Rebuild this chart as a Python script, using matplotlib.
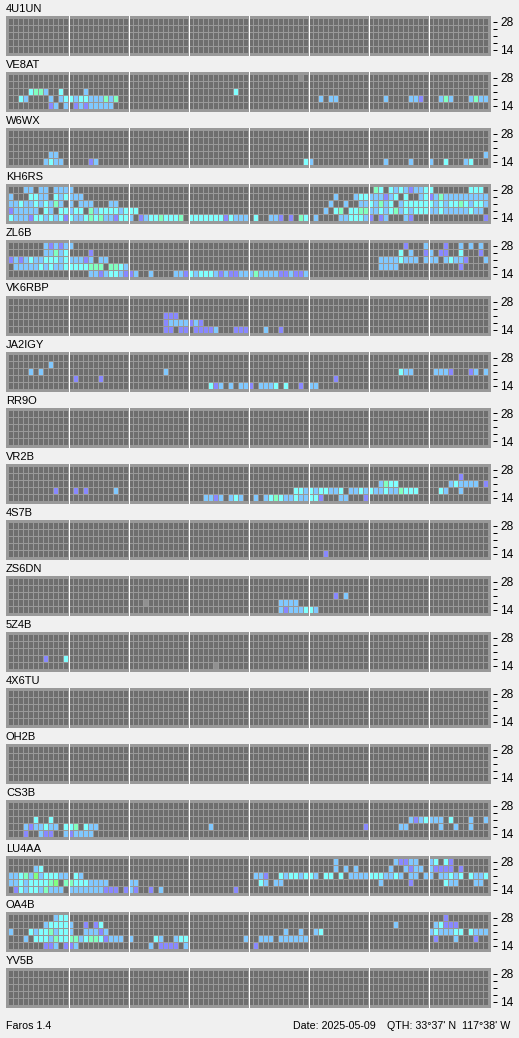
#Faros beacon grid: one panel per station, 96 quarter hours by 5 bands
import numpy as np
from matplotlib import pyplot as plt

W, H = 519, 1038

# ====
# Signal codes seen in the panels
code_colors = {"a": "#8888ff", "b": "#80c8ff", "c": "#80ffff",
               "d": "#80ffc0", "e": "#80ff80", "g": "#909090"}

# ====
# Each entry is (band row, first quarter hour, codes), "." means no signal
U1UN = []
VE8AT = [(0, 58, "g"),
         (2, 4, "cddb"), (2, 10, "c"), (2, 15, "b"), (2, 45, "c"),
         (3, 2, "cb"), (3, 8, "b.bccbccbbbdbd"), (3, 62, "b.bb"), (3, 75, "b"),
         (3, 80, "bba"), (3, 86, "bdb"), (3, 92, "bdbb"),
         (4, 8, "ab.b.ababbbbb")]
W6WX = [(3, 8, "bb"), (3, 95, "b"),
        (4, 7, "bcbb"), (4, 16, "ab"), (4, 59, "cb"), (4, 75, "b"),
        (4, 80, "b"), (4, 84, "b"), (4, 87, "c"), (4, 91, "b"), (4, 92, "c")]
KH6RS = [(0, 3, "bb.bb.bbbb"), (0, 73, "dc.cbcbabbcc"), (0, 92, "ccc"),
         (1, 0, "b"), (1, 4, "ccbb.cbcbbb"), (1, 65, "b"), (1, 69, "bccbbbabc.c"),
         (1, 82, "bcabdbbbbbbbbb"),
         (2, 0, "bbcbbcbcbdb.b.bbb...bb"), (2, 64, "b"), (2, 67, "b"),
         (2, 70, "bbcbdbc.bccccccbcbccdcbccb"),
         (3, 0, "abbbbb.cb.ccbcc.dbccccbccc"), (3, 63, "b.cd"),
         (3, 68, "ccddbbcbcdbcbcccbbcbbbbbcbb"),
         (4, 0, "cbbbaccbcbcacbbcdcdbbaccb"), (4, 26, "abccdcccd"),
         (4, 36, "cccccccacbbb"), (4, 49, "c"), (4, 52, "bba"), (4, 56, "a"),
         (4, 58, "dc"), (4, 61, "b"), (4, 66, "bbcccba.ab"), (4, 79, "ba"), (4, 95, "a")]
ZL6B = [(0, 7, "bababb"), (0, 79, "a"), (0, 83, "b"), (0, 87, "a"), (0, 90, "b"),
        (0, 92, "b"), (0, 94, "b"),
        (1, 7, "bbdbc"), (1, 16, "a"), (1, 78, "c"), (1, 80, "b"), (1, 83, "ab"),
        (1, 86, "aa"), (1, 90, "c"), (1, 94, "a"),
        (2, 0, "ababcbbcccbcbbbab.bb"), (2, 74, "bbbbcbbb"), (2, 83, "bbb"),
        (2, 87, "bcbba"), (2, 95, "b"),
        (3, 1, "bbbbbcbcbbcccccddd"), (3, 20, "ddcb"), (3, 74, "bbbb"), (3, 90, "a"),
        (4, 16, "bbabccbaab"), (4, 28, "b"), (4, 33, "bbacbcccbabaabbbdbbbbaabaab")]
VK6RBP = [(2, 31, "aaa"),
          (3, 31, "abbbbaba"),
          (4, 31, "aa.aa.aaaab"), (4, 45, "aaa"), (4, 51, "b"), (4, 54, "a")]
JA2IGY = [(1, 8, "b"),
          (2, 4, "b"), (2, 6, "b"), (2, 31, "b"), (2, 78, "cbb"), (2, 85, "bbba"),
          (2, 92, "ab"), (2, 95, "b"),
          (3, 13, "a"), (3, 18, "a"), (3, 65, "a"),
          (4, 40, "cab"), (4, 44, "b"), (4, 46, "bba"), (4, 50, "bbbc"), (4, 55, "c"),
          (4, 58, "a"), (4, 60, "bb")]
RR9O = []
VR2B = [(1, 90, "a"),
        (2, 74, "bdcc"), (2, 88, "bcbbbb"), (2, 95, "a"),
        (3, 9, "a"), (3, 13, "a"), (3, 15, "a"), (3, 21, "b"),
        (3, 57, "ccbcbccbbc"), (3, 68, "bbcbcbbcbbdccc"), (3, 86, "cb"), (3, 90, "b"),
        (4, 39, "bbab"), (4, 44, "bcb"), (4, 49, "b"), (4, 51, "bcdcbbcbbcca"),
        (4, 66, "bb"), (4, 71, "a")]
S7B = [(4, 63, "a")]
ZS6DN = [(2, 65, "a"), (2, 67, "b"),
         (3, 27, "g"), (3, 54, "bbbb"),
         (4, 54, "babbbccb")]
Z4B = [(3, 7, "a"), (3, 11, "c"), (4, 41, "g")]
X6TU = []
OH2B = []
CS3B = [(2, 5, "c"), (2, 8, "c"), (2, 80, "babcbbb"), (2, 88, "c"), (2, 92, "b"), (2, 95, "b"),
        (3, 3, "babbcbb"), (3, 11, "ccd"), (3, 15, "cbb"), (3, 40, "b"), (3, 71, "a"),
        (3, 78, "bb"), (3, 86, "b"), (3, 89, "b"), (3, 92, "b"),
        (4, 3, "a"), (4, 6, "baa"), (4, 11, "babbbb")]
LU4AA = [(0, 65, "b"), (0, 77, "baabb"), (0, 84, "bc"), (0, 87, "ca"),
         (1, 5, "bc"), (1, 65, "b"), (1, 67, "b"), (1, 69, "b"), (1, 76, "b"),
         (1, 79, "babb"), (1, 84, "baaaa"), (1, 90, "a"),
         (2, 0, "bbcdbebcccbb"), (2, 13, "cb"), (2, 49, "bba"), (2, 54, "cbccbccb"),
         (2, 63, "cc"), (2, 66, "c"), (2, 68, "bbbbcccbbcb"), (2, 80, "bb"), (2, 83, "bb"),
         (2, 86, "bbcbc"), (2, 92, "cbbc"),
         (3, 0, "bbcbccccde.ddcccbbbb"), (3, 24, "bb"), (3, 50, "cb"), (3, 53, "bb"),
         (3, 74, "b"), (3, 80, "a"), (3, 87, "cbb"), (3, 93, "bb"),
         (4, 1, "acbccbdbbb"), (4, 12, "bbbbbbb"), (4, 19, "aaa"), (4, 23, "aba"),
         (4, 28, "a"), (4, 30, "b"), (4, 45, "a")]
OA4B = [(0, 9, "bcc"), (0, 87, "a"),
        (1, 7, "bccccb"), (1, 15, "a"), (1, 17, "ac"), (1, 77, "b"), (1, 85, "bcaaa"),
        (2, 0, "b"), (2, 4, "cbccdbccb"), (2, 15, "bbbab"), (2, 55, "b"), (2, 58, "b"),
        (2, 61, "bc"), (2, 84, "bcbbbcc"), (2, 92, "cbbb"),
        (3, 3, "b"), (3, 5, "cccbdccddbcddcabbb"), (3, 24, "b"), (3, 29, "cb"),
        (3, 33, "bcc"), (3, 47, "b"), (3, 50, "bbb"), (3, 54, "bbbbbb"), (3, 85, "a"),
        (3, 89, "b"), (3, 93, "a"),
        (4, 7, "aab"), (4, 11, "aab"), (4, 28, "b"), (4, 30, "aaaa"), (4, 35, "b"), (4, 49, "a")]
YV5B = []

station_names = ["4U1UN", "VE8AT", "W6WX", "KH6RS", "ZL6B", "VK6RBP", "JA2IGY", "RR9O", "VR2B",
                 "4S7B", "ZS6DN", "5Z4B", "4X6TU", "OH2B", "CS3B", "LU4AA", "OA4B", "YV5B"]
station_data = [U1UN, VE8AT, W6WX, KH6RS, ZL6B, VK6RBP, JA2IGY, RR9O, VR2B,
                S7B, ZS6DN, Z4B, X6TU, OH2B, CS3B, LU4AA, OA4B, YV5B]
band_labels = ["28", "", "", "", "14"]

plt.rcParams['font.family'] = ['Liberation Sans', 'DejaVu Sans']
fig = plt.figure(figsize=(W / 100, H / 100), dpi=100, facecolor="#f0f0f0")

# ====
# One axes per station, sized so a quarter hour is 5 px and a band row 7 px
for i, (name, spots) in enumerate(zip(station_names, station_data)):
    top = 16 + 56 * i
    ax = fig.add_axes([6 / W, 1 - (top + 40) / H, 485 / W, 40 / H])
    ax.set_facecolor("#999999")
    ax.set_xlim(-0.6, 96.4)
    ax.set_ylim(37 / 7, -3 / 7)

    grid = np.full((5, 96), "#6e6e6e", dtype=object)
    for row, start, codes in spots:
        for k, code in enumerate(codes):
            if code != ".":
                grid[row, start + k] = code_colors[code]

    rows, cols = np.indices(grid.shape)
    ax.bar(cols.ravel(), 6 / 7, width=0.8, bottom=rows.ravel(), align="edge",
           color=grid.ravel().tolist(), linewidth=0, antialiased=False)

    for hour in range(12, 96, 12):
        ax.axvline(hour - 0.1, color="#ffffff", lw=0.72, antialiased=False)

    for spine in ax.spines.values():
        spine.set_visible(False)
    ax.spines["right"].set_position(("outward", 1.44))
    ax.set_xticks([])
    ax.yaxis.tick_right()
    ax.set_yticks(np.arange(5) + 2.5 / 7)
    ax.set_yticklabels(band_labels, fontsize=8.6, color="black")
    ax.tick_params(axis="y", length=2.88, width=0.72, pad=2.2, color="black")

    fig.text(6 / W, 1 - (top - 7.5) / H, name, fontsize=8, color="black", va="center", ha="left")

fig.text(6.5 / W, 1 - 1026 / H, "Faros 1.4", fontsize=7.7, va="center", ha="left")
fig.text(293 / W, 1 - 1026 / H, "Date: 2025-05-09", fontsize=7.7, va="center", ha="left")
fig.text(387 / W, 1 - 1026 / H, "QTH: 33°37' N  117°38' W", fontsize=7.7, va="center", ha="left")

fig.savefig("out.png", dpi=100, facecolor=fig.get_facecolor())
